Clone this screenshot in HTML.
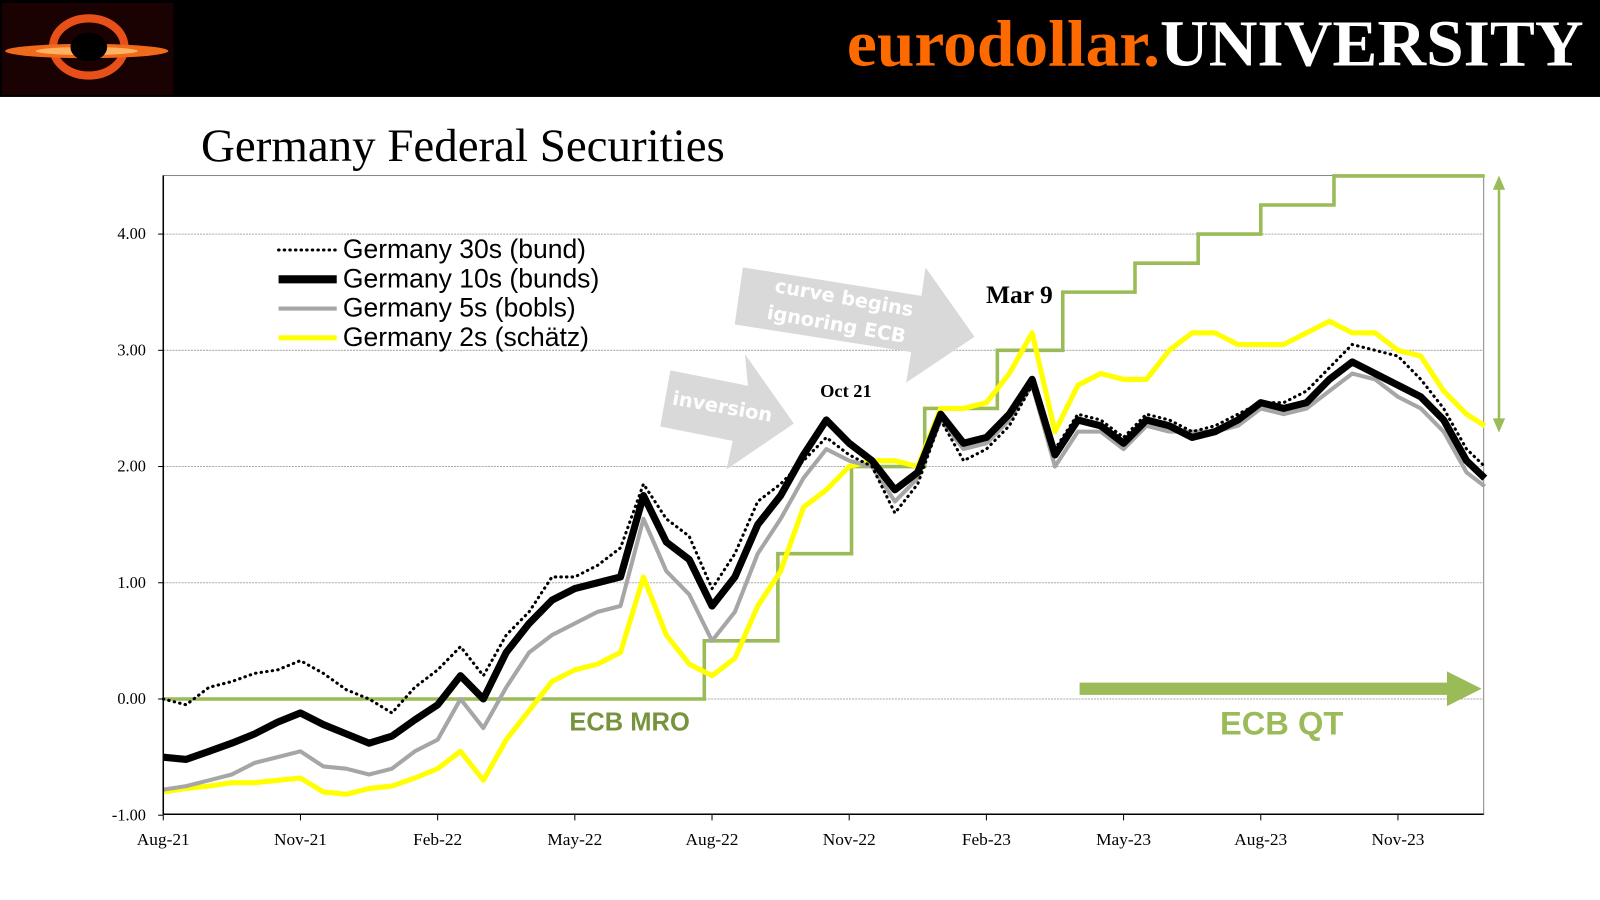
<!DOCTYPE html>
<html><head><meta charset="utf-8"><style>
html,body{margin:0;padding:0;width:1600px;height:900px;background:#fff;overflow:hidden}
svg{display:block}
</style></head><body>
<svg id="chart" width="1600" height="900" viewBox="0 0 1568 882" preserveAspectRatio="none" xmlns="http://www.w3.org/2000/svg">
<rect x="0" y="0" width="1568" height="95" fill="#000"/>
<g>
<rect x="2" y="3" width="168" height="90" fill="#1a0202"/>
<ellipse cx="87" cy="46" rx="35" ry="28" fill="none" stroke="#e8501a" stroke-width="8"/>
<ellipse cx="85" cy="50" rx="80" ry="7" fill="#f06a1c"/>
<ellipse cx="85" cy="50" rx="50" ry="4" fill="#ffb060"/>
<ellipse cx="87" cy="46" rx="18" ry="14" fill="#000"/>
</g>
<text x="1552" y="64" text-anchor="end" font-family="Liberation Serif, serif" font-weight="bold" font-size="64" textLength="722" lengthAdjust="spacingAndGlyphs"><tspan fill="#ff6a00">eurodollar.</tspan><tspan fill="#fff">UNIVERSITY</tspan></text>
<text x="197" y="158" font-family="Liberation Serif, serif" font-size="46" fill="#000">Germany Federal Securities</text>
<g id="grid"></g>
<g id="annot"></g>
<g id="series"></g>
<g id="axes"></g>
<g id="legend"></g>
</svg>
<script>
const months = [0,0.5,1,1.5,2,2.5,3,3.5,4,4.5,5,5.5,6,6.5,7,7.5,8,8.5,9,9.5,10,10.5,11,11.5,12,12.5,13,13.5,14,14.5,15,15.5,16,16.5,17,17.5,18,18.5,19,19.5,20,20.5,21,21.5,22,22.5,23,23.5,24,24.5,25,25.5,26,26.5,27,27.5,28,28.5,28.9];
const bund30 = [0.0,-0.05,0.10,0.15,0.22,0.25,0.33,0.22,0.08,0.0,-0.12,0.10,0.25,0.45,0.20,0.55,0.75,1.05,1.05,1.15,1.30,1.85,1.55,1.40,0.95,1.25,1.70,1.85,2.05,2.25,2.10,2.0,1.60,1.85,2.40,2.05,2.15,2.35,2.70,2.15,2.45,2.40,2.25,2.45,2.40,2.30,2.35,2.45,2.55,2.55,2.65,2.85,3.05,3.0,2.95,2.75,2.50,2.15,2.0];
const bund10 = [-0.50,-0.52,-0.45,-0.38,-0.30,-0.20,-0.12,-0.22,-0.30,-0.38,-0.32,-0.18,-0.05,0.20,0.0,0.40,0.65,0.85,0.95,1.0,1.05,1.75,1.35,1.20,0.80,1.05,1.50,1.75,2.10,2.40,2.20,2.05,1.80,1.95,2.45,2.20,2.25,2.45,2.75,2.10,2.40,2.35,2.20,2.40,2.35,2.25,2.30,2.40,2.55,2.50,2.55,2.75,2.90,2.80,2.70,2.60,2.40,2.05,1.90];
const bobl5 = [-0.78,-0.75,-0.70,-0.65,-0.55,-0.50,-0.45,-0.58,-0.60,-0.65,-0.60,-0.45,-0.35,0.0,-0.25,0.10,0.40,0.55,0.65,0.75,0.80,1.55,1.10,0.90,0.50,0.75,1.25,1.55,1.90,2.15,2.05,2.0,1.70,1.90,2.40,2.15,2.20,2.40,2.70,2.0,2.30,2.30,2.15,2.35,2.30,2.30,2.30,2.35,2.50,2.45,2.50,2.65,2.80,2.75,2.60,2.50,2.30,1.95,1.83];
const schatz2 = [-0.80,-0.77,-0.75,-0.72,-0.72,-0.70,-0.68,-0.80,-0.82,-0.77,-0.75,-0.68,-0.60,-0.45,-0.70,-0.35,-0.10,0.15,0.25,0.30,0.40,1.05,0.55,0.30,0.20,0.35,0.80,1.10,1.65,1.80,2.0,2.05,2.05,2.0,2.50,2.50,2.55,2.80,3.15,2.30,2.70,2.80,2.75,2.75,3.0,3.15,3.15,3.05,3.05,3.05,3.15,3.25,3.15,3.15,3.0,2.95,2.65,2.45,2.35];
const mroChangeMonths = [0,11.83,13.44,15.05,16.65,18.24,19.67,21.25,22.63,24.0,25.6];
const mroRates = [0,0.5,1.25,2.0,2.5,3.0,3.5,3.75,4.0,4.25,4.5];
const yTicks = [-1,0,1,2,3,4];
const yTickLabels = ["-1.00","0.00","1.00","2.00","3.00","4.00"];
const xTickMonths = [0,3,6,9,12,15,18,21,24,27];
const xTickLabels = ["Aug-21","Nov-21","Feb-22","May-22","Aug-22","Nov-22","Feb-23","May-23","Aug-23","Nov-23"];

const X0=160,X1=1454,Y0=798,Y1=172,MEND=28.9;
const xs = m => X0 + (m/27)*(1370-X0);
const ys = v => 685 - v*113.9;
const NS="http://www.w3.org/2000/svg";
function mk(tag,attrs,parent){const e=document.createElementNS(NS,tag);for(const k in attrs)e.setAttribute(k,attrs[k]);parent.appendChild(e);return e;}
const grid=document.getElementById('grid'),axes=document.getElementById('axes'),ser=document.getElementById('series'),annot=document.getElementById('annot'),leg=document.getElementById('legend');

const frame=mk('rect',{x:X0,y:Y1,width:X1-X0,height:Y0-Y1,fill:'none',stroke:'#888','stroke-width':1},grid);


yTicks.forEach((v,i)=>{
  const y=ys(v);
  if(v>-1){const g=mk('line',{x1:X0,x2:X1,y1:y,y2:y,stroke:'#aaa','stroke-width':1,'stroke-dasharray':'2,1'},grid);
  
  }
  const t=mk('line',{x1:X0-5,x2:X0,y1:y,y2:y,stroke:'#000'},axes);
  
  
  const l=mk('text',{x:143,y:y+5,'text-anchor':'end','font-family':'Liberation Serif, serif','font-size':16},axes);
  l.textContent=yTickLabels[i];
  
  
});
const yax=mk('line',{x1:X0,x2:X0,y1:Y1,y2:Y0,stroke:'#000','stroke-width':1.5},axes);


const xax=mk('line',{x1:X0,x2:X1,y1:Y0,y2:Y0,stroke:'#000','stroke-width':1.5},axes);


xTickMonths.forEach((m,i)=>{
  const x=xs(m);
  const t=mk('line',{x1:x,x2:x,y1:Y0,y2:Y0+6,stroke:'#000'},axes);
  
  
  const l=mk('text',{x:x,y:828,'text-anchor':'middle','font-family':'Liberation Serif, serif','font-size':17},axes);
  l.textContent=xTickLabels[i];
  
  
});

const a1=mk('polygon',{points:'657,363 733,378 730,347 778,415 712,460 718,432 647,418',fill:'#d9d9d9'},annot);


const t1=mk('text',{x:708,y:405,'text-anchor':'middle','font-family':'DejaVu Sans, sans-serif','font-weight':'bold','font-size':19,fill:'#fff',transform:'rotate(10 708 398)'},annot);
t1.textContent='inversion';


const a2=mk('polygon',{points:'728,262 903,290 907,262 955,330 888,375 893,345 720,318',fill:'#d9d9d9'},annot);


const t2=mk('text',{'text-anchor':'middle','font-family':'DejaVu Sans, sans-serif','font-weight':'bold','font-size':19,fill:'#fff',transform:'rotate(10 825 305)'},annot);


const s1=mk('tspan',{x:825,y:298},t2);s1.textContent='curve begins';
const s2=mk('tspan',{x:822,y:325},t2);s2.textContent='ignoring ECB';

function linePath(vals){return vals.map((v,i)=>(i?'L':'M')+xs(months[i]).toFixed(1)+','+ys(v).toFixed(1)).join(' ');}
let d='';
mroChangeMonths.forEach((m,i)=>{const x=xs(m),y=ys(mroRates[i]);d+= i? ` L${x.toFixed(1)},${ys(mroRates[i-1]).toFixed(1)} L${x.toFixed(1)},${y.toFixed(1)}` : `M${x},${y}`;});
d+=` L${xs(MEND).toFixed(1)},${ys(mroRates[mroRates.length-1]).toFixed(1)}`;
const mro=mk('path',{d:d,fill:'none',stroke:'#9bbb59','stroke-width':3.5},ser);


const p2=mk('path',{d:linePath(schatz2),fill:'none',stroke:'#ffff00','stroke-width':5,'stroke-linejoin':'round'},ser);


const p5=mk('path',{d:linePath(bobl5),fill:'none',stroke:'#a6a6a6','stroke-width':4,'stroke-linejoin':'round'},ser);


const p10=mk('path',{d:linePath(bund10),fill:'none',stroke:'#000','stroke-width':7,'stroke-linejoin':'round'},ser);


const p30=mk('path',{d:linePath(bund30),fill:'none',stroke:'#000','stroke-width':3,'stroke-dasharray':'0.5,5','stroke-linecap':'round'},ser);



function txt(x,y,s,attrs,name){const t=mk('text',Object.assign({x:x,y:y},attrs),annot);t.textContent=s;

return t;}
txt(829,389,'Oct 21',{'text-anchor':'middle','font-family':'Liberation Serif, serif','font-weight':'bold','font-size':18},'oct21-label');
txt(999,297,'Mar 9',{'text-anchor':'middle','font-family':'Liberation Serif, serif','font-weight':'bold','font-size':25},'mar9-label');
txt(617,716,'ECB MRO',{'text-anchor':'middle','font-family':'Liberation Sans, sans-serif','font-weight':'bold','font-size':25,fill:'#77933c'},'ecb-mro-label');
txt(1256,720,'ECB QT',{'text-anchor':'middle','font-family':'Liberation Sans, sans-serif','font-weight':'bold','font-size':32,fill:'#9bbb59'},'ecb-qt-label');
const qt=mk('polygon',{points:'1058,669 1418,669 1418,658 1452,675 1418,692 1418,681 1058,681',fill:'#9bbb59'},annot);


const va=mk('g',{},annot);


mk('line',{x1:1469,x2:1469,y1:180,y2:416,stroke:'#9bbb59','stroke-width':2.5},va);
mk('polygon',{points:'1469,172 1463,186 1475,186',fill:'#9bbb59'},va);
mk('polygon',{points:'1469,424 1463,410 1475,410',fill:'#9bbb59'},va);

const legNames=['Germany 30s (bund)','Germany 10s (bunds)','Germany 5s (bobls)','Germany 2s (schätz)'];
const legStyles=[{stroke:'#000','stroke-width':3,'stroke-dasharray':'0.5,5','stroke-linecap':'round'},{stroke:'#000','stroke-width':8},{stroke:'#a6a6a6','stroke-width':4},{stroke:'#ffff00','stroke-width':5}];
legNames.forEach((n,i)=>{
  const y=245+i*28.7;
  const g=mk('g',{},leg);
  
  
  mk('line',Object.assign({x1:273,x2:330,y1:y,y2:y},legStyles[i]),g);
  const t=mk('text',{x:336,y:y+8,'font-family':'Liberation Sans, sans-serif','font-size':26},g);
  t.textContent=n;
});
</script>
</body></html>
